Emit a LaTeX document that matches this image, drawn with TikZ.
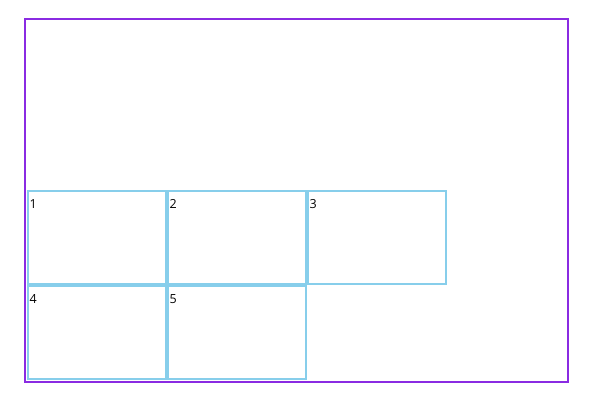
\documentclass[tikz,border=0pt]{standalone}
\usepackage{fontspec}
\setmainfont{Open Sans}
\definecolor{outerpurple}{HTML}{8A2BE2}
\definecolor{cellblue}{HTML}{87CEEB}
\begin{document}
\begin{tikzpicture}[x=1pt,y=-1pt,
  cell/.style={draw=cellblue, line width=2pt, rectangle, minimum width=138pt, minimum height=93pt, inner sep=0pt},
  lbl/.style={anchor=north west, inner sep=0pt, font=\fontsize{12.5}{14}\selectfont}]
\useasboundingbox (0,0) rectangle (595,402);
\node[draw=outerpurple, line width=2pt, rectangle, minimum width=543pt, minimum height=363pt, inner sep=0pt] (outer) at (296.5,200.5) {};
\node[cell] (c1) at (97,237.5) {};
\node[cell] (c2) at (237,237.5) {};
\node[cell] (c3) at (377,237.5) {};
\node[cell] (c4) at (97,332.5) {};
\node[cell] (c5) at (237,332.5) {};
\node[lbl] (l1) at ([xshift=2.5pt,yshift=-9.5pt]c1.north west) {1};
\node[lbl] (l2) at ([xshift=2.5pt,yshift=-9.5pt]c2.north west) {2};
\node[lbl] (l3) at ([xshift=2.5pt,yshift=-9.5pt]c3.north west) {3};
\node[lbl] (l4) at ([xshift=2.5pt,yshift=-9.5pt]c4.north west) {4};
\node[lbl] (l5) at ([xshift=2.5pt,yshift=-9.5pt]c5.north west) {5};
\end{tikzpicture}
\end{document}
